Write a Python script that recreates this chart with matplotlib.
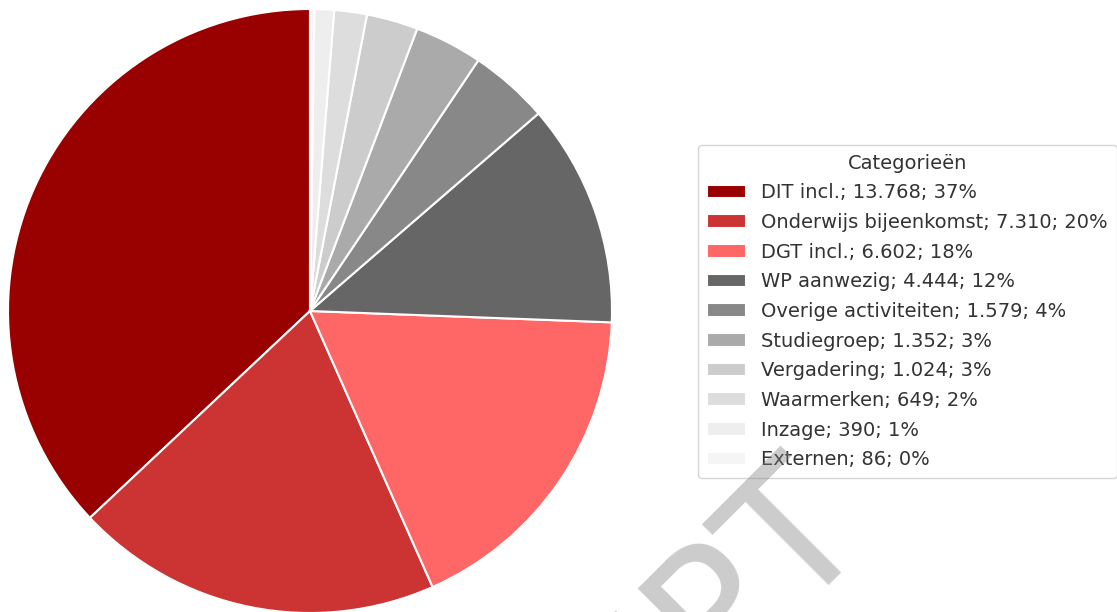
import matplotlib.pyplot as plt

# Categorie data
categories = ['DIT incl.', 'Onderwijs bijeenkomst', 'DGT incl.', 'WP aanwezig',
              'Overige activiteiten', 'Studiegroep', 'Vergadering', 'Waarmerken',
              'Inzage', 'Externen']
values = [13768, 7310, 6602, 4444, 1579, 1352, 1024, 649, 390, 86]
percentages = [37, 20, 18, 12, 4, 3, 3, 2, 1, 0]  # as shown in the legend
colors = ['#990000', '#cc3333', '#ff6666', '#666666', '#888888',
          '#aaaaaa', '#cccccc', '#dddddd', '#eeeeee', '#f5f5f5']


def fmt_num(v):
    # Dutch thousands separator
    return f'{v:,}'.replace(',', '.')


labels = [f'{c}; {fmt_num(v)}; {p}%' for c, v, p in zip(categories, values, percentages)]

fig = plt.figure(figsize=(11.17, 6.12), dpi=100)
ax = fig.add_axes([8 / 1117, (612 - 311 - 302) / 612, 604 / 1117, 604 / 612])

wedges, _ = ax.pie(values, colors=colors, startangle=90, counterclock=True,
                   wedgeprops=dict(edgecolor='white', linewidth=1.5))
ax.set_xlim(-1, 1)
ax.set_ylim(-1, 1)
ax.set_aspect('equal')

leg = fig.legend(wedges, labels, title='Categorieën', loc='center left',
                 bbox_to_anchor=(698 / 1117, 0.491), borderaxespad=0,
                 fontsize=14, title_fontsize=14, labelcolor='#333333',
                 labelspacing=0.55, borderpad=0.45)
leg.get_title().set_color('#333333')

# watermark
fig.text(0.477, -0.31, 'CONCEPT', rotation=45, ha='center', va='center',
         fontsize=130, color='gray', alpha=0.4, zorder=10)

fig.savefig('out.png', dpi=100)
